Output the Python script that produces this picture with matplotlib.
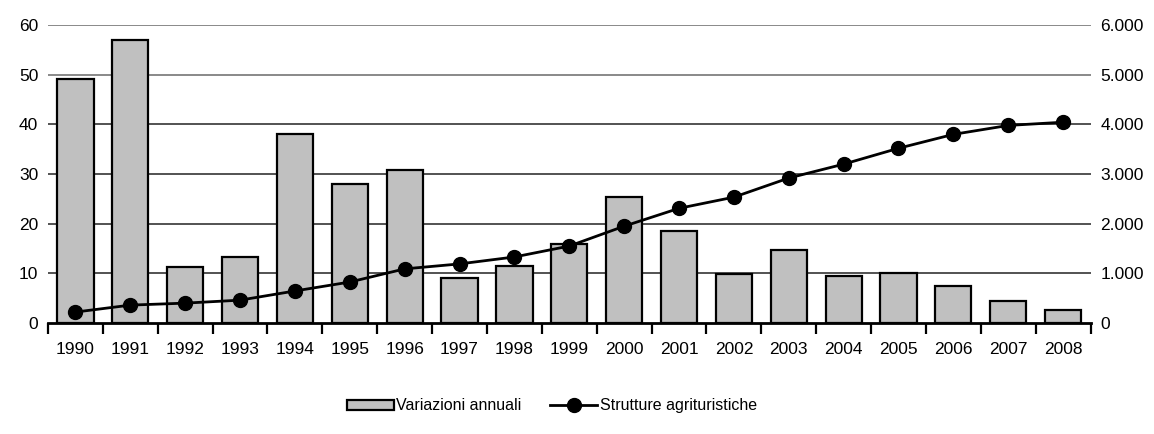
import numpy as np
from matplotlib import pyplot as plt
from matplotlib.ticker import FuncFormatter

plt.rcParams['font.family'] = ['Liberation Sans', 'DejaVu Sans']

# data
years = ['1990', '1991', '1992', '1993', '1994', '1995', '1996', '1997', '1998', '1999',
         '2000', '2001', '2002', '2003', '2004', '2005', '2006', '2007', '2008']
variazioni = [49.1, 57.1, 11.3, 13.3, 38.0, 28.0, 30.8, 9.0, 11.5, 15.9,
              25.4, 18.5, 9.9, 14.7, 9.5, 10.0, 7.5, 4.5, 2.7]
strutture = [220, 360, 400, 460, 645, 825, 1090, 1190, 1330, 1550,
             1950, 2310, 2535, 2920, 3200, 3520, 3800, 3980, 4045]

fig = plt.figure(figsize=(11.54, 4.34), dpi=100)
ax = fig.add_axes([0.0416, 0.2558, 0.9034, 0.6862])
x = np.arange(len(years))

# gridlines
for v in range(10, 61, 10):
    ax.axhline(v, color='#444444' if v < 50 else '#808080', lw=1.3, zorder=0)

bars = ax.bar(x, variazioni, width=0.66, color='#c0c0c0', edgecolor='black',
              linewidth=1.6, zorder=2, label='Variazioni annuali')
ax.set_ylim(0, 60)
ax.set_xlim(-0.5, len(years) - 0.5)
ax.set_yticks(range(0, 61, 10))
ax.tick_params(axis='y', length=0, labelsize=12.5, pad=7)

# x axis: ticks at category boundaries, labels centred
ax.set_xticks(np.arange(-0.5, len(years), 1))
ax.set_xticklabels([])
ax.set_xticks(x, minor=True)
ax.set_xticklabels(years, minor=True)
ax.tick_params(axis='x', which='major', direction='out', length=8, width=1.6)
ax.tick_params(axis='x', which='minor', length=0, labelsize=12.5, pad=14)

for s in ['top', 'right', 'left']:
    ax.spines[s].set_visible(False)
ax.spines['bottom'].set_linewidth(2)

ax2 = ax.twinx()
line, = ax2.plot(x, strutture, color='black', lw=2, marker='o', markersize=10,
                 zorder=3, label='Strutture agrituristiche')
ax2.set_ylim(0, 6000)
ax2.set_yticks(range(0, 6001, 1000))
ax2.yaxis.set_major_formatter(FuncFormatter(lambda v, p: f'{int(v):,}'.replace(',', '.')))
ax2.tick_params(axis='y', length=0, labelsize=12.5, pad=7)
for s in ['top', 'right', 'left', 'bottom']:
    ax2.spines[s].set_visible(False)

fig.legend([bars, line], ['Variazioni annuali', 'Strutture agrituristiche'],
           loc='center', bbox_to_anchor=(0.478, 0.065), ncol=2, frameon=False,
           fontsize=11.5, handlelength=2.95, handleheight=0.6,
           handletextpad=0.15, columnspacing=1.8)

fig.savefig('out.png', dpi=100)
